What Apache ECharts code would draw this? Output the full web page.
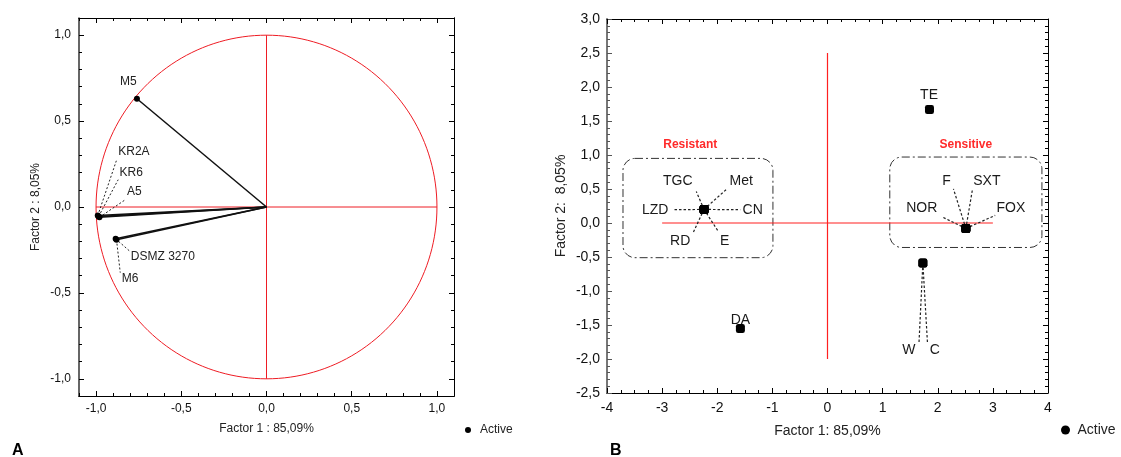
<!DOCTYPE html>
<html>
<head>
<meta charset="utf-8">
<script src="https://cdn.jsdelivr.net/npm/echarts@6/dist/echarts.min.js"></script>
<style>
  html, body { margin: 0; padding: 0; background: #fff; }
  #chart { width: 1121px; height: 457px; }
</style>
</head>
<body>
<div id="chart"></div>
<script>
// ---- panel A : correlation circle ----
var namesA = ['M5', 'KR2A', 'KR6', 'A5', 'DSMZ 3270', 'M6'];
var factor1A = [-0.76, -0.99, -0.985, -0.98, -0.885, -0.88];
var factor2A = [0.63, -0.05, -0.055, -0.06, -0.185, -0.19];
// label anchors and leader-line ends (data units)
var labelXA = [-0.81, -0.778, -0.794, -0.776, -0.608, -0.801];
var labelYA = [0.729, 0.320, 0.201, 0.089, -0.289, -0.419];
var tipXA = [null, -0.881, -0.870, -0.829, -0.799, -0.858];
var tipYA = [null, 0.269, 0.159, 0.042, -0.26, -0.382];
var majorTicksA = [-1, -0.5, 0, 0.5, 1];
var refLinesA = [[-1, 0, 1, 0], [0, -1, 0, 1]];

// ---- panel B : factor plane ----
var namesB = ['TGC', 'Met', 'LZD', 'CN', 'RD', 'E', 'F', 'SXT', 'NOR', 'FOX', 'TE', 'W', 'C', 'DA'];
var factor1B = [-2.24, -2.24, -2.24, -2.24, -2.24, -2.24, 2.51, 2.51, 2.51, 2.51, 1.85, 1.73, 1.73, -1.58];
var factor2B = [0.2, 0.2, 0.2, 0.2, 0.2, 0.2, -0.08, -0.08, -0.08, -0.08, 1.67, -0.59, -0.59, -1.55];
var labelXB = [-2.715, -1.564, -3.127, -1.358, -2.673, -1.867, 2.158, 2.891, 1.709, 3.327, 1.842, 1.478, 1.945, -1.58];
var labelYB = [0.612, 0.612, 0.195, 0.195, -0.262, -0.262, 0.622, 0.622, 0.219, 0.219, 1.886, -1.866, -1.866, -1.43];
var tipXB = [-2.38, -1.824, -2.805, -1.582, -2.431, -1.976, 2.285, 2.631, 2.085, 3.042, null, 1.66, 1.813, null];
var tipYB = [0.462, 0.501, 0.195, 0.195, -0.131, -0.131, 0.501, 0.501, 0.087, 0.112, null, -1.758, -1.758, null];
var groupNames = ['Resistant', 'Sensitive'];
var groupBox = [[-3.71, -0.51, -0.99, 0.95], [1.13, -0.36, 3.89, 0.97]];
var groupTitleX = [-2.49, 2.51];
var groupTitleY = [1.147, 1.155];
var refLinesB = [[-3, 0, 3, 0], [0, -2, 0, 2.5]];

var FONT = '"Liberation Sans", Arial, sans-serif';

function pts(xs, ys) {
    return xs.map(function (x, i) { return [x, ys[i]]; });
}
function leaders(xs, ys, tx, ty) {
    var out = [];
    xs.forEach(function (x, i) {
        if (tx[i] !== null) out.push([x, ys[i], tx[i], ty[i]]);
    });
    return out;
}
function comma(v) {
    return v.toFixed(1).replace('.', ',');
}

function segSeries(xi, yi, data, color, width, dash) {
    return {
        type: 'custom', xAxisIndex: xi, yAxisIndex: yi, silent: true, z: 3,
        data: data,
        renderItem: function (params, api) {
            var a = api.coord([api.value(0), api.value(1)]);
            var b = api.coord([api.value(2), api.value(3)]);
            var style = { stroke: color, fill: 'none', lineWidth: width, opacity: 1 };
            if (dash) style.lineDash = dash;
            return {
                type: 'line',
                shape: { x1: a[0], y1: a[1], x2: b[0], y2: b[1] },
                style: style
            };
        }
    };
}
function textSeries(xi, yi, data, names, size, color, weight) {
    return {
        type: 'custom', xAxisIndex: xi, yAxisIndex: yi, silent: true, z: 5,
        data: data,
        renderItem: function (params, api) {
            var p = api.coord([api.value(0), api.value(1)]);
            return {
                type: 'text',
                style: {
                    text: names[params.dataIndex], x: p[0], y: p[1],
                    fill: color, font: (weight || 'normal') + ' ' + size + 'px ' + FONT,
                    align: 'center', verticalAlign: 'middle',
                    textAlign: 'center', textVerticalAlign: 'middle'
                }
            };
        }
    };
}

var chart = echarts.init(document.getElementById('chart'));

var base = {
    type: 'value',
    splitLine: { show: false },
    axisLine: { show: true, onZero: false, lineStyle: { color: '#000', width: 1 } }
};
function ax(extra) { return echarts.util.merge(echarts.util.clone(base), extra, true); }

var option = {
    animation: false,
    grid: [
        { left: 79, top: 18, width: 375, height: 378 },
        { left: 607, top: 19, width: 441, height: 374 }
    ],
    xAxis: [
        ax({ gridIndex: 0, min: -1.1, max: 1.1, position: 'bottom',
            name: 'Factor 1 : 85,09%', nameLocation: 'middle', nameGap: 27,
            nameTextStyle: { fontSize: 12, color: '#222', fontFamily: FONT },
            axisTick: { inside: true, length: 5, customValues: majorTicksA, lineStyle: { color: '#000' } },
            axisLabel: { customValues: majorTicksA, formatter: comma, margin: 7, fontSize: 12, color: '#111', fontFamily: FONT } }),
        ax({ gridIndex: 0, min: -1.1, max: 1.1, interval: 0.1, position: 'bottom',
            axisTick: { inside: true, length: 3, lineStyle: { color: '#000' } }, axisLabel: { show: false } }),
        ax({ gridIndex: 0, min: -1.1, max: 1.1, position: 'top',
            axisTick: { inside: true, length: 5, customValues: majorTicksA, lineStyle: { color: '#000' } }, axisLabel: { show: false } }),
        ax({ gridIndex: 0, min: -1.1, max: 1.1, interval: 0.1, position: 'top',
            axisTick: { inside: true, length: 3, lineStyle: { color: '#000' } }, axisLabel: { show: false } }),
        ax({ gridIndex: 1, min: -4, max: 4, interval: 1, position: 'bottom',
            name: 'Factor 1: 85,09%', nameLocation: 'middle', nameGap: 31,
            nameTextStyle: { fontSize: 14, color: '#222', fontFamily: FONT },
            axisTick: { inside: true, length: 5, lineStyle: { color: '#000' } },
            minorTick: { show: true, splitNumber: 4, length: 3, lineStyle: { color: '#000' } },
            axisLabel: { margin: 8, fontSize: 14, color: '#111', fontFamily: FONT, showMinLabel: true, showMaxLabel: true } }),
        ax({ gridIndex: 1, min: -4, max: 4, interval: 1, position: 'top',
            axisTick: { inside: true, length: 5, lineStyle: { color: '#000' } },
            minorTick: { show: true, splitNumber: 4, length: 3, lineStyle: { color: '#000' } },
            axisLabel: { show: false } })
    ],
    yAxis: [
        ax({ gridIndex: 0, min: -1.1, max: 1.1, position: 'left',
            name: 'Factor 2 : 8,05%', nameLocation: 'middle', nameGap: 37,
            nameTextStyle: { fontSize: 12, color: '#222', fontFamily: FONT },
            axisLine: { lineStyle: { color: '#333', width: 1.5 } },
            axisTick: { inside: true, length: 5, customValues: majorTicksA, lineStyle: { color: '#000' } },
            axisLabel: { customValues: majorTicksA, formatter: comma, margin: 8, fontSize: 12, color: '#111', fontFamily: FONT } }),
        ax({ gridIndex: 0, min: -1.1, max: 1.1, interval: 0.1, position: 'left',
            axisLine: { show: false },
            axisTick: { inside: true, length: 3, lineStyle: { color: '#000' } }, axisLabel: { show: false } }),
        ax({ gridIndex: 0, min: -1.1, max: 1.1, position: 'right',
            axisTick: { inside: true, length: 5, customValues: majorTicksA, lineStyle: { color: '#000' } }, axisLabel: { show: false } }),
        ax({ gridIndex: 0, min: -1.1, max: 1.1, interval: 0.1, position: 'right',
            axisTick: { inside: true, length: 3, lineStyle: { color: '#000' } }, axisLabel: { show: false } }),
        ax({ gridIndex: 1, min: -2.5, max: 3, interval: 0.5, position: 'left',
            name: 'Factor 2:  8,05%', nameLocation: 'middle', nameGap: 39,
            nameTextStyle: { fontSize: 14, color: '#222', fontFamily: FONT },
            axisLine: { lineStyle: { color: '#777', width: 2 } },
            axisTick: { inside: true, length: 5, lineStyle: { color: '#555' } },
            minorTick: { show: true, splitNumber: 5, length: 3, lineStyle: { color: '#555' } },
            axisLabel: { formatter: comma, margin: 7, fontSize: 14, color: '#111', fontFamily: FONT, showMinLabel: true, showMaxLabel: true } }),
        ax({ gridIndex: 1, min: -2.5, max: 3, interval: 0.5, position: 'right',
            axisTick: { inside: true, length: 5, lineStyle: { color: '#000' } },
            minorTick: { show: true, splitNumber: 5, length: 3, lineStyle: { color: '#000' } },
            axisLabel: { show: false } })
    ],
    legend: [
        { left: 465, top: 424, padding: 0, selectedMode: false, itemWidth: 14, itemHeight: 6,
          data: [{ name: 'Active', icon: 'circle', itemStyle: { color: '#000', opacity: 1 } }],
          textStyle: { fontSize: 12, color: '#222', fontFamily: FONT } },
        { left: 1061, top: 423, padding: 0, selectedMode: false, itemWidth: 14, itemHeight: 9,
          data: [{ name: 'Active', icon: 'circle', itemStyle: { color: '#000', opacity: 1 } }],
          textStyle: { fontSize: 14, color: '#222', fontFamily: FONT } }
    ],
    graphic: [
        { type: 'text', style: { text: 'A', x: 12, y: 451, font: 'bold 16px ' + FONT, fill: '#000', verticalAlign: 'middle', textVerticalAlign: 'middle' } },
        { type: 'text', style: { text: 'B', x: 610, y: 451, font: 'bold 16px ' + FONT, fill: '#000', verticalAlign: 'middle', textVerticalAlign: 'middle' } }
    ],
    series: [
        // panel A
        {
            type: 'custom', xAxisIndex: 0, yAxisIndex: 0, silent: true, z: 2,
            data: [[0, 0]],
            renderItem: function (params, api) {
                var points = [];
                for (var d = 0; d <= 360; d += 2) {
                    var t = d * Math.PI / 180;
                    points.push(api.coord([Math.cos(t), Math.sin(t)]));
                }
                return { type: 'polyline', shape: { points: points },
                         style: { stroke: '#ee1c24', lineWidth: 1, fill: 'none' } };
            }
        },
        segSeries(0, 0, refLinesA, '#ee1c24', 1),
        segSeries(0, 0, factor1A.map(function (x, i) { return [0, 0, x, factor2A[i]]; }), '#111', 1.5),
        segSeries(0, 0, leaders(factor1A, factor2A, tipXA, tipYA), '#222', 1, [2, 2]),
        { name: 'Active', type: 'scatter', xAxisIndex: 0, yAxisIndex: 0, symbol: 'circle', symbolSize: 6, z: 4,
          itemStyle: { color: '#000', opacity: 1 }, silent: true, data: pts(factor1A, factor2A) },
        textSeries(0, 0, pts(labelXA, labelYA), namesA, 12, '#222'),
        // panel B
        segSeries(4, 4, refLinesB, '#ff2020', 1.2),
        {
            type: 'custom', xAxisIndex: 4, yAxisIndex: 4, silent: true, z: 2,
            data: groupBox,
            renderItem: function (params, api) {
                var a = api.coord([api.value(0), api.value(3)]);
                var b = api.coord([api.value(2), api.value(1)]);
                return { type: 'rect',
                         shape: { x: a[0], y: a[1], width: b[0] - a[0], height: b[1] - a[1], r: 12 },
                         style: { stroke: '#333', fill: 'none', lineWidth: 1, lineDash: [8, 3, 2, 3] } };
            }
        },
        textSeries(4, 4, pts(groupTitleX, groupTitleY), groupNames, 12, '#ff2a2a', 'bold'),
        segSeries(4, 4, leaders(factor1B, factor2B, tipXB, tipYB), '#222', 1.2, [2.5, 2]),
        { name: 'Active', type: 'scatter', xAxisIndex: 4, yAxisIndex: 4, symbol: 'roundRect', symbolSize: 9, z: 4,
          itemStyle: { color: '#000', opacity: 1 }, silent: true, data: pts(factor1B, factor2B) },
        textSeries(4, 4, pts(labelXB, labelYB), namesB, 14, '#1a1a1a')
    ]
};

chart.setOption(option);

window.addEventListener('resize', function () {
    chart.resize();
});
</script>
</body>
</html>
